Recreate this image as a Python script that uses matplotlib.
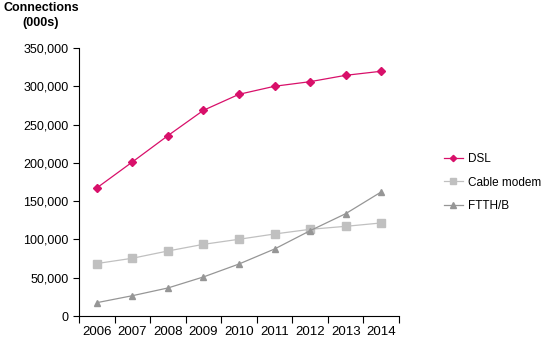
import matplotlib.pyplot as plt
import numpy as np
from matplotlib.ticker import FuncFormatter, FixedLocator

plt.rcParams['font.family'] = ['Liberation Sans', 'DejaVu Sans']

years = ['2006', '2007', '2008', '2009', '2010', '2011', '2012', '2013', '2014']
dsl = [167200, 201100, 235500, 268600, 289500, 300000, 306000, 314300, 319600]
cable = [68500, 75400, 84900, 93600, 100200, 107100, 113200, 117100, 121500]
ftth = [17400, 26500, 36600, 51000, 67900, 87500, 111400, 133600, 162000]

fig = plt.figure(figsize=(5.46, 3.41), dpi=100)
ax = fig.add_axes([0.1447, 0.0733, 0.586, 0.786])
x = np.arange(len(years))

ax.plot(x, dsl, color='#D8106A', lw=0.9, marker='D', ms=4, label='DSL')
ax.plot(x, cable, color='#C0C0C0', lw=0.9, marker='s', ms=6, label='Cable modem')
ax.plot(x, ftth, color='#969696', lw=0.9, marker='^', ms=5, label='FTTH/B')

ax.set_xlim(-0.5, len(years) - 0.5)
ax.set_ylim(0, 350000)
ax.set_yticks(np.arange(0, 350001, 50000))
ax.yaxis.set_major_formatter(FuncFormatter(lambda v, p: f'{int(v):,}'))
ax.set_xticks(x)
ax.set_xticklabels(years)
ax.xaxis.set_minor_locator(FixedLocator(np.arange(-0.5, len(years), 1.0)))
ax.tick_params(axis='x', which='major', length=0, pad=7, labelsize=9.5)
ax.tick_params(axis='x', which='minor', length=5, direction='out', width=0.8)
ax.tick_params(axis='y', length=4, width=0.8, labelsize=9)

for s in ['top', 'right']:
    ax.spines[s].set_visible(False)
for s in ['left', 'bottom']:
    ax.spines[s].set_linewidth(0.8)

fig.text(0.075, 0.995, 'Connections\n(000s)', ha='center', va='top',
         fontsize=9, fontweight='bold', linespacing=1.4)

fig.legend(loc='upper left', bbox_to_anchor=(0.813, 0.552), frameon=False,
           borderaxespad=0, borderpad=0, fontsize=8.5, handlelength=1.6,
           labelspacing=1.0, handletextpad=0.4, markerscale=0.8)

fig.savefig('out.png', dpi=100)
